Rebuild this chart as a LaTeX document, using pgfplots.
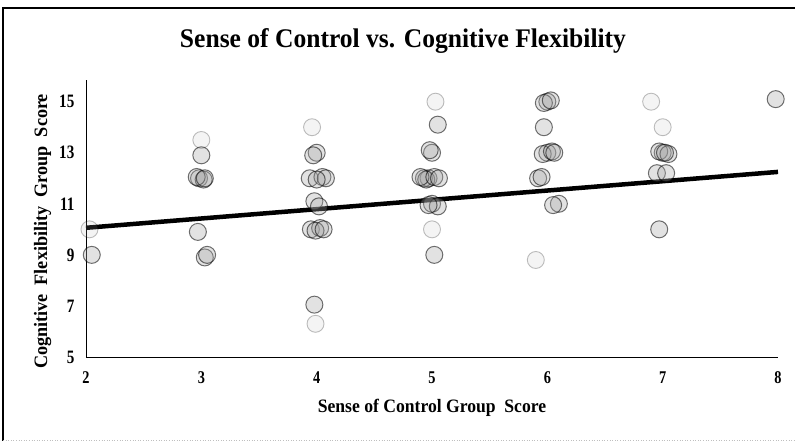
\documentclass[border=0pt]{standalone}
\usepackage{fontspec}
\setmainfont{Liberation Serif}
\newfontfamily\titlefont[FakeStretch=0.95]{Liberation Serif}
\newfontfamily\xlabfont[FakeStretch=0.93]{Liberation Serif}
\newfontfamily\ylabfont[FakeStretch=0.96]{Liberation Serif}
\newfontfamily\tickfont[FakeStretch=0.8]{Liberation Serif}
\usepackage{pgfplots}
\pgfplotsset{compat=1.18}
\begin{document}
\begin{tikzpicture}[x=1bp,y=1bp]
\useasboundingbox (0,0) rectangle (795,441);
\draw[black, line width=1.6bp] (3,0) -- (3,433) -- (795,433);
\draw[gray!50, line width=0.6bp, dotted] (3,1) -- (795,1);
\node[font=\titlefont\bfseries\fontsize{27}{30}\selectfont, anchor=base] at (403,393) {Sense of Control vs. Cognitive Flexibility};
\begin{axis}[
  at={(86bp,84bp)}, anchor=south west,
  scale only axis, width=692bp, height=277bp,
  xmin=2, xmax=8, ymin=5, ymax=15.85,
  xtick={2,3,...,8}, ytick={5,7,...,15},
  axis x line=bottom, axis y line=left,
  axis line style={black, line width=0.8bp, -},
  tick style={draw=none},
  /pgf/number format/assume math mode=true,
  xticklabel style={font=\tickfont\bfseries\fontsize{18}{20}\selectfont, yshift=-9bp},
  yticklabel style={font=\tickfont\bfseries\fontsize{19}{21}\selectfont, xshift=-6bp},
  xlabel={Sense of Control Group\ \ Score},
  ylabel={Cognitive\ \ Flexibility\ \ Group\ \ Score},
  xlabel style={font=\xlabfont\bfseries\fontsize{19}{21}\selectfont, yshift=-9bp},
  ylabel style={font=\ylabfont\bfseries\fontsize{19}{21}\selectfont, at={(ticklabel cs:0.453)}, yshift=1bp},
  clip=false,
]
\addplot[only marks, mark=*, mark size=8.5bp,
  mark options={draw=black, fill=gray!60, draw opacity=0.25, fill opacity=0.15, line width=0.9bp}]
  coordinates {
  (2.03,10.0) (3.0,13.5) (3.99,6.3) (5.03,15.0) (5.0,10.0) (5.9,8.8) (6.9,15.0) (7.0,14.0) (3.96,14.0)
  };
\addplot[only marks, mark=*, mark size=8.5bp,
  mark options={draw=black, fill=gray!70, draw opacity=0.55, fill opacity=0.32, line width=1bp}]
  coordinates {
  (2.05,9.0)
  (3.0,12.9) (2.98,12.0) (3.02,11.95) (2.96,12.05) (3.03,12.0) (2.97,9.9) (3.03,8.9) (3.05,9.0)
  (4.0,13.0) (3.97,12.9) (3.94,12.0) (4.05,12.05) (4.08,12.0) (4.0,11.95) (3.98,11.1) (4.02,10.9)
  (3.95,10.0) (4.03,10.05) (3.99,9.95) (4.06,10.0) (3.98,7.05)
  (5.05,14.1) (5.0,13.0) (4.98,13.1) (4.97,12.0) (4.93,12.0) (4.95,11.95) (4.90,12.05) (5.02,12.05)
  (5.06,12.0) (5.0,11.0) (5.05,10.9) (4.97,10.95) (5.02,9.0)
  (6.0,15.0) (5.97,14.95) (6.03,15.05) (5.97,14.0) (6.0,13.0) (5.96,12.95) (6.04,13.05) (6.06,13.0)
  (5.92,12.0) (5.95,12.05) (6.1,11.0) (6.05,10.95)
  (7.0,13.0) (6.97,13.05) (7.05,12.95) (7.02,13.0) (6.95,12.2) (7.03,12.2) (6.97,10.0)
  (7.98,15.1)
  };
\addplot[black, line width=4.5bp] coordinates {(2,10.06) (8,12.25)};
\end{axis}
\end{tikzpicture}
\end{document}
